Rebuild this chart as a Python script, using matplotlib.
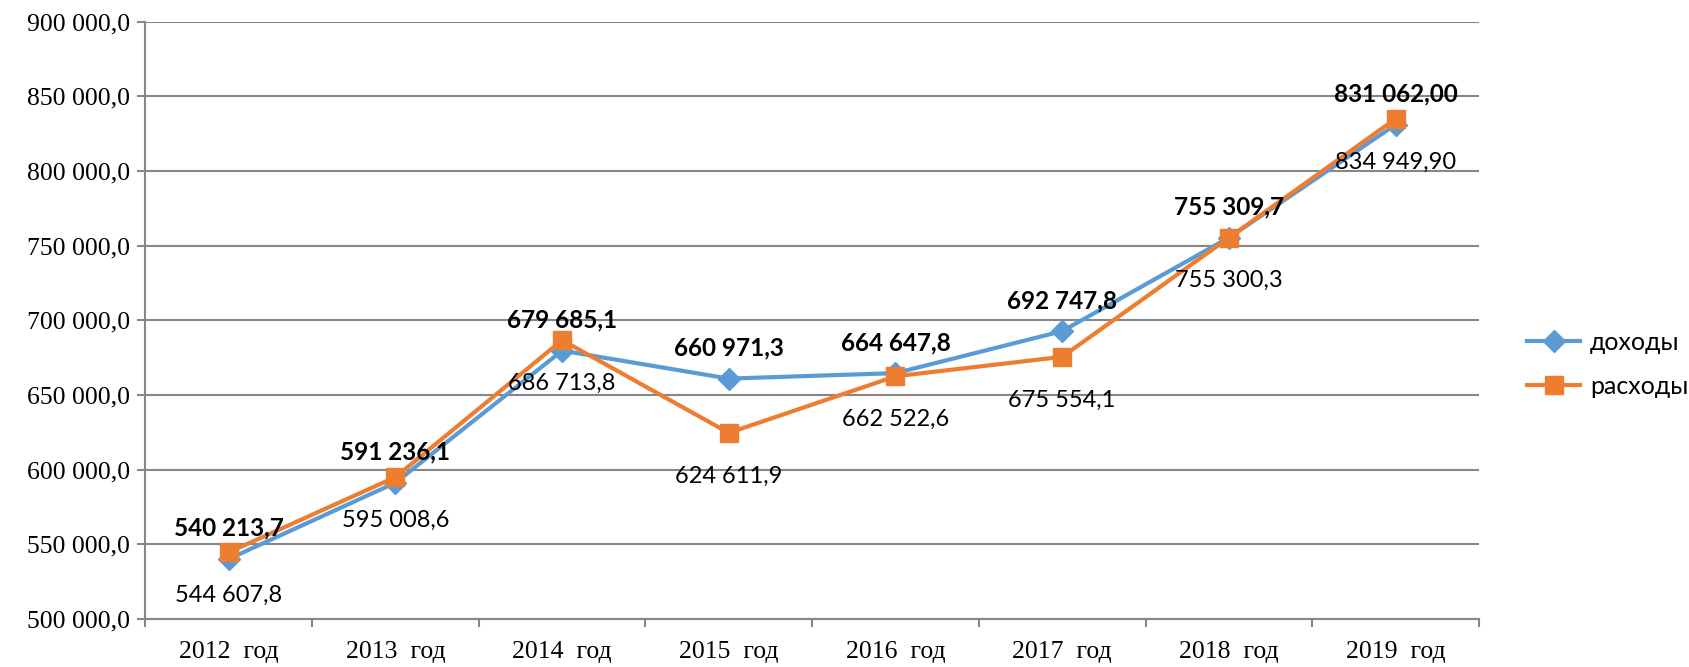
import matplotlib.pyplot as plt
from matplotlib.ticker import FuncFormatter, FixedLocator

years = ["2012  год", "2013  год", "2014  год", "2015  год",
         "2016  год", "2017  год", "2018  год", "2019  год"]
dohody = [540213.7, 591236.1, 679685.1, 660971.3, 664647.8, 692747.8, 755309.7, 831062.00]
rashody = [544607.8, 595008.6, 686713.8, 624611.9, 662522.6, 675554.1, 755300.3, 834949.90]
decimals = [1, 1, 1, 1, 1, 1, 1, 2]

BLUE = "#5B9BD5"
ORANGE = "#ED7D31"
GRID = "#868686"
SERIF = "Liberation Serif"
SANS = "Lato"


def ru_num(v, d=1):
    s = f"{v:,.{d}f}"
    return s.replace(",", " ").replace(".", ",")


fig = plt.figure(figsize=(16.89, 6.67), dpi=100)
ax = fig.add_axes([0.0861, 0.072, 0.7895, 0.8955])

x = list(range(len(years)))
ax.plot(x, dohody, color=BLUE, lw=3, marker="D", ms=11, label="доходы", zorder=3)
ax.plot(x, rashody, color=ORANGE, lw=3, marker="s", ms=12.5, label="расходы", zorder=4)

# data labels
for i in x:
    ax.annotate(ru_num(dohody[i], decimals[i]), (i, dohody[i]), xytext=(0, 22),
                textcoords="offset points", ha="center", va="center",
                fontsize=17.5, fontweight="bold", family=SANS, zorder=5)
    ax.annotate(ru_num(rashody[i], decimals[i]), (i, rashody[i]), xytext=(0, -31),
                textcoords="offset points", ha="center", va="center",
                fontsize=17, family=SANS, zorder=5)

ax.set_xlim(-0.5, len(years) - 0.5)
ax.set_ylim(500000, 900000)
ax.set_yticks(range(500000, 900001, 50000))
ax.yaxis.set_major_formatter(FuncFormatter(lambda v, p: ru_num(v, 1)))
ax.set_xticks(x)
ax.set_xticklabels(years)
ax.xaxis.set_minor_locator(FixedLocator([i - 0.5 for i in range(len(years) + 1)]))

ax.tick_params(axis="x", which="major", length=0, pad=16, labelsize=18.5)
ax.tick_params(axis="x", which="minor", length=6, width=1.5, color=GRID, direction="out")
ax.tick_params(axis="y", length=6, width=1.5, color=GRID, pad=5, labelsize=18.5)
for lab in ax.get_xticklabels() + ax.get_yticklabels():
    lab.set_family(SERIF)

ax.grid(axis="y", color=GRID, lw=1.5)
ax.set_axisbelow(True)
for s in ["top", "right"]:
    ax.spines[s].set_visible(False)
for s in ["left", "bottom"]:
    ax.spines[s].set_color(GRID)
    ax.spines[s].set_linewidth(1.5)

fig.legend(loc="center left", bbox_to_anchor=(0.891, 0.454), frameon=False,
           prop={"family": SANS, "size": 18}, handlelength=2.1,
           handletextpad=0.4, labelspacing=0.85)

fig.savefig("out.png", dpi=100)
